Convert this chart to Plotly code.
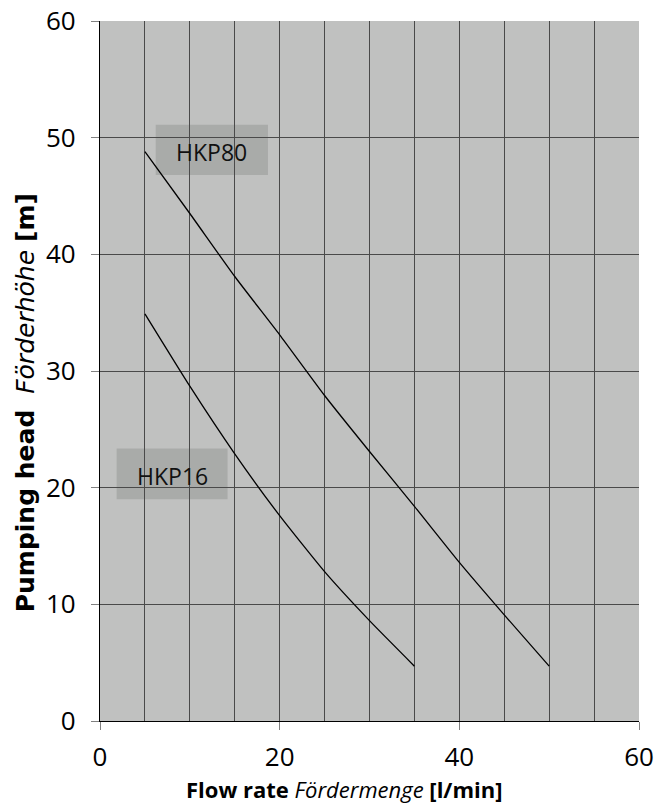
import plotly.graph_objects as go

# Data
hkp80_flow = [5, 10, 15, 20, 25, 30, 35, 40, 45, 50]
hkp80_head = [48.8, 43.5, 38.1, 33.1, 27.9, 23.1, 18.4, 13.6, 9.1, 4.7]
hkp16_flow = [5, 10, 15, 20, 25, 30, 35]
hkp16_head = [34.9, 28.7, 22.9, 17.6, 12.8, 8.6, 4.7]

labels = ["HKP80", "HKP16"]
label_x0 = [6.2, 1.85]
label_x1 = [18.7, 14.2]
label_y0 = [46.8, 19.0]
label_y1 = [51.1, 23.35]

x_ticks = [0, 20, 40, 60]
y_ticks = [0, 10, 20, 30, 40, 50, 60]

FONT = "Open Sans"

fig = go.Figure()
for xs, ys in ((hkp80_flow, hkp80_head), (hkp16_flow, hkp16_head)):
    fig.add_trace(go.Scatter(x=xs, y=ys, mode="lines",
                             line=dict(color="black", width=1.3, shape="spline", smoothing=0.5),
                             showlegend=False, hoverinfo="skip"))

for name, x0, x1, y0, y1 in zip(labels, label_x0, label_x1, label_y0, label_y1):
    fig.add_shape(type="rect", x0=x0, x1=x1, y0=y0, y1=y1, xref="x", yref="y",
                  fillcolor="#a9aba9", line=dict(width=0), layer="below")
    fig.add_annotation(x=(x0 + x1) / 2, y=(y0 + y1) / 2 - 0.15, text=name, showarrow=False,
                       font=dict(family=FONT, size=23, color="#111111"), xref="x", yref="y")

# axis titles
fig.add_annotation(x=0.4545, y=-0.0975, xref="paper", yref="paper", showarrow=False,
                   xanchor="center", yanchor="middle",
                   text="<b>Flow rate</b> <i>Fördermenge</i> <b>[l/min]</b>",
                   font=dict(family=FONT, size=22, color="black"))
fig.add_annotation(x=-0.139, y=0.454, xref="paper", yref="paper", showarrow=False,
                   xanchor="center", yanchor="middle", textangle=-90,
                   text="<b>Pumping head</b>  <i>Förderhöhe</i> <b>[m]</b>",
                   font=dict(family="DejaVu Sans", size=25, color="black"))

fig.update_layout(
    width=656, height=807,
    margin=dict(l=100, r=17, t=21, b=86, autoexpand=False),
    paper_bgcolor="white",
    plot_bgcolor="#c0c1c0",
    font=dict(family=FONT, color="black"),
)
fig.update_xaxes(
    range=[0, 60], tickvals=x_ticks, ticks="outside", ticklen=8, tickcolor="#808080",
    showline=True, linecolor="black", linewidth=1.3,
    showgrid=True, gridcolor="#4a4a4a", gridwidth=1,
    minor=dict(dtick=5, showgrid=True, gridcolor="#4a4a4a", gridwidth=1),
    tickfont=dict(family=FONT, size=26), zeroline=False, ticklabelstandoff=5,
)
fig.update_yaxes(
    range=[0, 60], tickvals=y_ticks, ticks="outside", ticklen=8, tickcolor="#808080",
    showline=True, linecolor="black", linewidth=1.3,
    showgrid=True, gridcolor="#4a4a4a", gridwidth=1,
    tickfont=dict(family=FONT, size=26), zeroline=False, ticklabelstandoff=10,
)

fig.write_html("out.html", config={"displayModeBar": False},
               post_script="document.body.style.margin='0';")
